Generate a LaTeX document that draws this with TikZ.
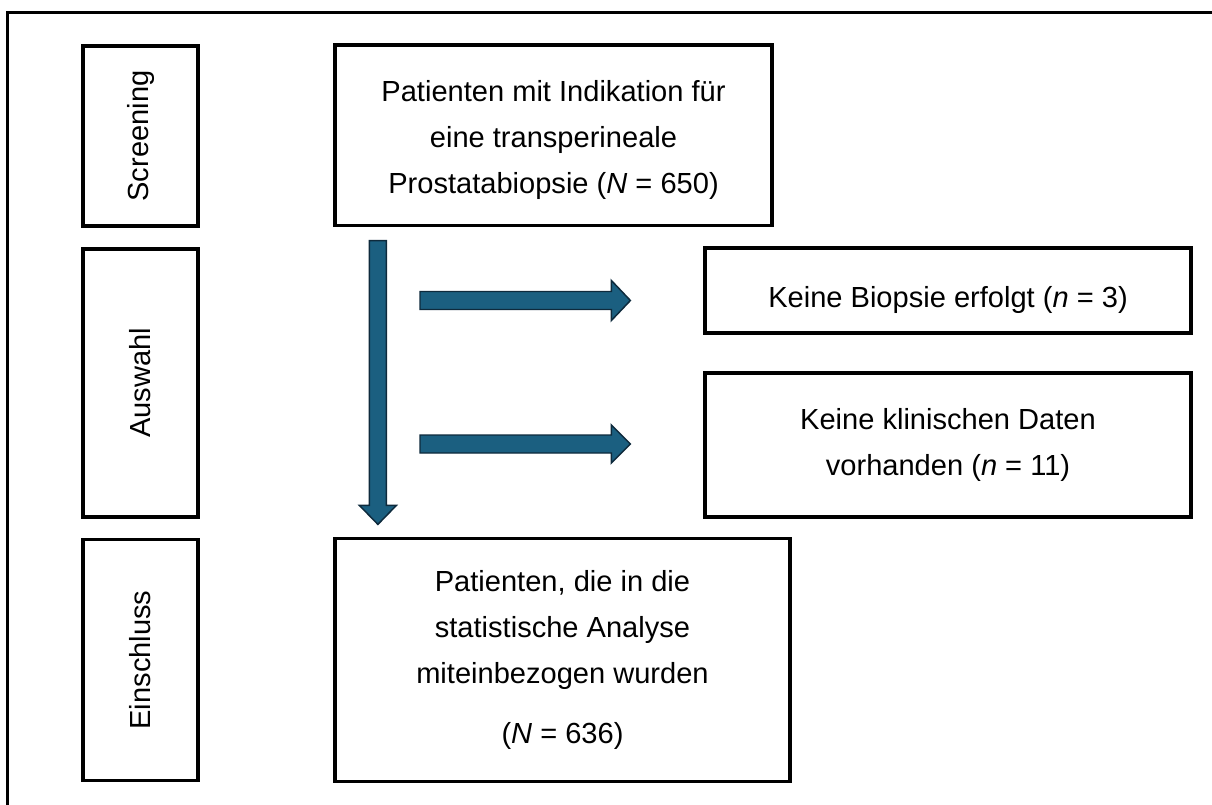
\documentclass[tikz,border=0pt]{standalone}
\usepackage{fontspec}
\setmainfont{Liberation Sans}
\usetikzlibrary{calc}
\definecolor{arrowfill}{HTML}{1B5F80}
\definecolor{arrowline}{HTML}{0E2A3C}
\tikzset{
  txt/.style={align=center, inner sep=0pt, font=\fontsize{21.8pt}{34.5pt}\selectfont},
  box/.style={draw=black, line width=2.4pt, fill=white, inner sep=0pt, txt},
  sidebox/.style={box, minimum width=86.25pt},
  sidetxt/.style={rotate=90, font=\fontsize{21.8pt}{25pt}\selectfont},
  barrow/.style={fill=arrowfill, draw=arrowline, line width=1.1pt, line join=miter},
}
\begin{document}
\begin{tikzpicture}[x=0.75pt, y=-0.75pt]
\useasboundingbox (0,0) rectangle (1212,805);
\begin{scope}
\clip (0,0) rectangle (1212,805);
\draw[line width=2.4pt] (7.5,12.5) rectangle (1240,840);
\end{scope}

% stage labels
\node[sidebox, minimum height=135pt] (scr) at (140.5,136) {};
\node[sidetxt] (scrt) at (scr.center) {Screening};
\node[sidebox, minimum height=201pt] (ausw) at (140.5,383) {};
\node[sidetxt] (auswt) at (ausw.center) {Auswahl};
\node[sidebox, minimum height=181pt] (ein) at (140.5,660) {};
\node[sidetxt] (eint) at (ein.center) {Einschluss};

% main boxes
\node[box, minimum width=327.75pt, minimum height=135.4pt] (top) at (553.5,135.25) {};
\node[txt] (topt) at ($(top.center)+(0,5)$)
  {Patienten mit Indikation für\\eine transperineale\\Prostatabiopsie (\textit{N} = 650)};
\node[box, minimum width=364.5pt, minimum height=63.75pt] (kb) at (948,290.5) {};
\node[txt] (kbt) at ($(kb.center)+(0,9)$) {Keine Biopsie erfolgt (\textit{n} = 3)};
\node[box, minimum width=364.5pt, minimum height=108pt] (kk) at (948,445)
  {Keine klinischen Daten\\vorhanden (\textit{n} = 11)};
\node[box, minimum width=341.25pt, minimum height=182.25pt] (bot) at (562.5,660)
  {Patienten, die in die\\statistische Analyse\\miteinbezogen wurden\\[10pt](\textit{N} = 636)};

% down arrow
\coordinate (dS) at ($(top.south west)+(44.5,13.5)$);
\coordinate (dT) at ($(bot.north west)+(44.5,-12.5)$);
\draw[barrow] ($(dS)+(-8.5,0)$) -- ($(dS)+(8.5,0)$) -- ($(dT)+(8.5,-19)$) -- ($(dT)+(18.5,-19)$)
  -- (dT) -- ($(dT)+(-18.5,-19)$) -- ($(dT)+(-8.5,-19)$) -- cycle;

% right arrows
\coordinate (r1S) at (420,300.5);
\coordinate (r1T) at ($(kb.west)+(-73,10)$);
\draw[barrow] ($(r1S)+(0,-9)$) -- ($(r1T)+(-19,-9)$) -- ($(r1T)+(-19,-20)$) -- (r1T)
  -- ($(r1T)+(-19,20)$) -- ($(r1T)+(-19,9)$) -- ($(r1S)+(0,9)$) -- cycle;
\coordinate (r2S) at (420,444);
\coordinate (r2T) at ($(kb.west)+(-73,153.5)$);
\draw[barrow] ($(r2S)+(0,-9)$) -- ($(r2T)+(-19,-9)$) -- ($(r2T)+(-19,-19)$) -- (r2T)
  -- ($(r2T)+(-19,19)$) -- ($(r2T)+(-19,9)$) -- ($(r2S)+(0,9)$) -- cycle;
\end{tikzpicture}
\end{document}
